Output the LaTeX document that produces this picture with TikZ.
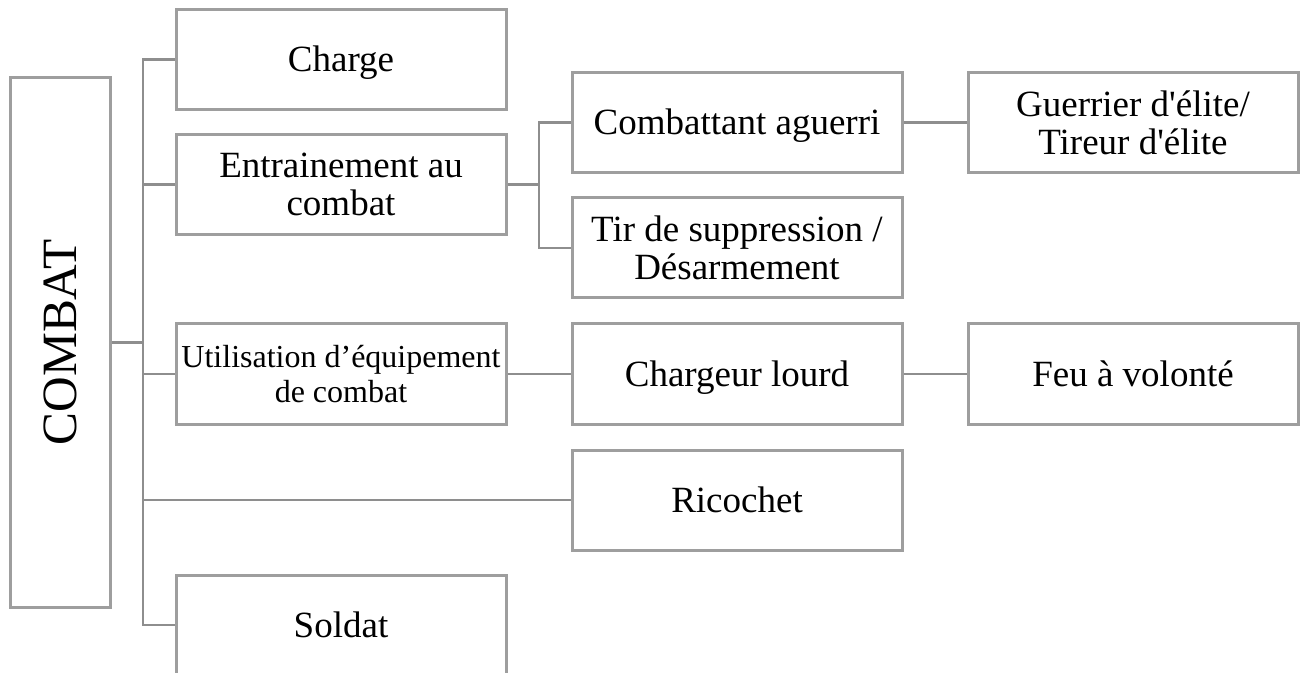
\documentclass[tikz,border=0pt]{standalone}
\usepackage{graphicx}
\usepackage{fontspec}
\newfontfamily\boxfont{Liberation Serif}
\definecolor{boxgray}{RGB}{158,158,158}
\definecolor{linkgray}{RGB}{142,142,142}
\begin{document}
\begin{tikzpicture}[x=0.75pt,y=-0.75pt,
  box/.style={draw=boxgray,line width=2.25pt,minimum width=247.5pt,
    minimum height=75pt,inner sep=0pt,align=center,
    font=\boxfont\fontsize{27.75}{28.75}\selectfont},
  oneline/.style={box,text height=18.5pt,text depth=0pt},
  smallbox/.style={box,font=\boxfont\fontsize{24}{26.25}\selectfont},
  link/.style={draw=linkgray,line width=1.9pt}]
\useasboundingbox (0,0) rectangle (1306,673);

% root
\node[draw=boxgray,line width=2.25pt,minimum width=75pt,minimum height=396.75pt,
  inner sep=0pt,font=\boxfont\fontsize{37}{40}\selectfont] (combat) at (60,342.5)
  {\rotatebox{90}{COMBAT}};

% first level
\node[oneline] (charge) at (341,59.5) {Charge};
\node[box] (train) at (341,184.5) {Entrainement au\\combat};
\node[smallbox] (util) at (341,374) {Utilisation d’équipement\\de combat};
\node[oneline] (soldat) at (341,625) {Soldat};

% second level
\node[oneline] (comb) at (737,122.5) {Combattant aguerri};
\node[box] (tir) at (737,248) {Tir de suppression /\\Désarmement};
\node[oneline] (charg) at (737,374) {Chargeur lourd};
\node[oneline] (rico) at (737,500) {Ricochet};

% third level
\node[box] (guer) at (1133,122.5) {Guerrier d'élite/\\Tireur d'élite};
\node[oneline] (feu) at (1133,374) {Feu à volonté};

% trunk and branches
\coordinate (tk) at (143,0);
\coordinate (sb) at (539,0);
\draw[link] (charge.west) -- (charge.west -| tk) -- (soldat.west -| tk) -- (soldat.west);
\draw[link] (combat.east) -- (combat.east -| tk);
\draw[link] (train.west) -- (train.west -| tk);
\draw[link] (util.west) -- (util.west -| tk);
\draw[link] (rico.west) -- (rico.west -| tk);

\draw[link] (train.east) -- (train.east -| sb);
\draw[link] (comb.west) -- (comb.west -| sb) -- (tir.west -| sb) -- (tir.west);
\draw[link] (comb.east) -- (guer.west);
\draw[link] (util.east) -- (charg.west);
\draw[link] (charg.east) -- (feu.west);
\end{tikzpicture}
\end{document}
